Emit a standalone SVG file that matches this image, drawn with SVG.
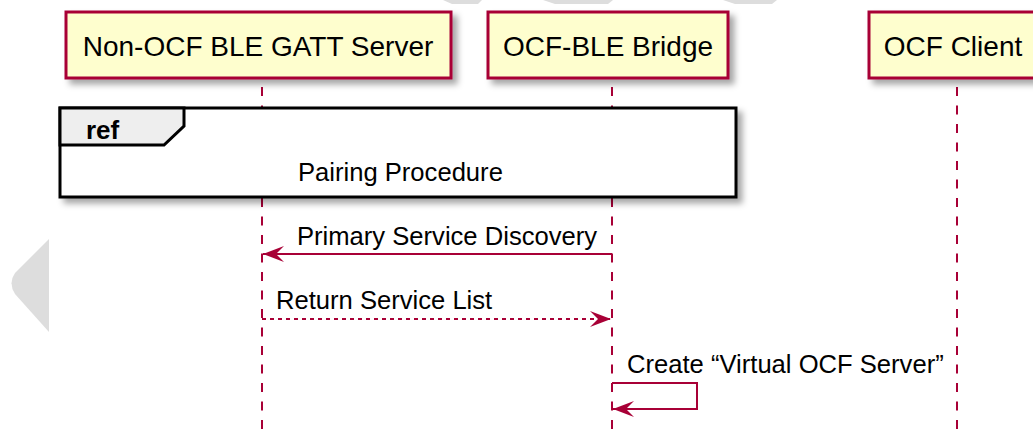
<svg xmlns="http://www.w3.org/2000/svg" width="1033" height="437" viewBox="0 0 1033 437">
<defs>
<filter id="sh" x="-10%" y="-20%" width="130%" height="160%">
<feGaussianBlur in="SourceAlpha" stdDeviation="3"/>
<feOffset dx="5" dy="5" result="b"/>
<feFlood flood-color="#000000" flood-opacity="0.35"/>
<feComposite in2="b" operator="in"/>
<feMerge><feMergeNode/><feMergeNode in="SourceGraphic"/></feMerge>
</filter>
<marker id="ah" viewBox="0 0 22 18" refX="21" refY="9" markerWidth="22" markerHeight="18" markerUnits="userSpaceOnUse" orient="auto">
<path d="M21,9 L0,1 L8,9 L0,17 Z" fill="#A80036"/>
</marker>
<style>
.part{fill:#FEFECE;stroke:#A80036;stroke-width:3}
.pt{font-family:"Liberation Sans",Arial,sans-serif;font-size:28px;fill:#000000}
.msg{font-family:"Liberation Sans",Arial,sans-serif;font-size:25.6px;fill:#000000}
.life{stroke:#A80036;stroke-width:2;stroke-dasharray:9,9.5;fill:none}
.arr{stroke:#A80036;stroke-width:2;fill:none}
.wm{fill:#DDDDDD}
</style>
</defs>
<rect width="1033" height="437" fill="#FFFFFF"/>
<g id="watermark">
<path class="wm" d="M49,239 L15,273 Q8,283 15,294 L49,332 Z"/>
<polygon class="wm" points="443,0 482,0 478,4 452,4"/>
<polygon class="wm" points="543,0 613,0 608,4 555,4"/>
<polygon class="wm" points="723,0 777,0 772,4 735,4"/>
</g>
<g id="lifelines">
<line class="life" x1="262" y1="87" x2="262" y2="437"/>
<line class="life" x1="612" y1="87" x2="612" y2="437"/>
<line class="life" x1="957" y1="87" x2="957" y2="437"/>
</g>
<g id="p1">
<rect class="part" x="66" y="12" width="385" height="66" filter="url(#sh)"/>
<text class="pt" x="258" y="56" text-anchor="middle">Non-OCF BLE GATT Server</text>
</g>
<g id="p2">
<rect class="part" x="488" y="12" width="240" height="66" filter="url(#sh)"/>
<text class="pt" x="608" y="56" text-anchor="middle">OCF-BLE Bridge</text>
</g>
<g id="p3">
<rect class="part" x="869" y="12" width="168" height="66" filter="url(#sh)"/>
<text class="pt" x="953" y="56" text-anchor="middle">OCF Client</text>
</g>
<g id="ref">
<rect x="60" y="108" width="676" height="89" fill="#FFFFFF" stroke="#000000" stroke-width="3" filter="url(#sh)"/>
<path d="M60,108 L184,108 L184,126 L164,145 L60,145 Z" fill="#EEEEEE" stroke="#000000" stroke-width="3"/>
<text x="86" y="139" font-family="'Liberation Sans',Arial,sans-serif" font-size="26" font-weight="bold" fill="#000000">ref</text>
<text class="msg" x="298" y="181">Pairing Procedure</text>
</g>
<g id="connectors">
<g id="m1">
<line class="arr" x1="612" y1="254" x2="263" y2="254" marker-end="url(#ah)"/>
<text class="msg" x="297" y="245">Primary Service Discovery</text>
</g>
<g id="m2">
<line class="arr" x1="262" y1="319" x2="611" y2="319" stroke-dasharray="4,4" marker-end="url(#ah)"/>
<text class="msg" x="276" y="309">Return Service List</text>
</g>
<g id="m3">
<polyline class="arr" points="612,383 697,383 697,409 613,409" marker-end="url(#ah)"/>
<text class="msg" x="627" y="373">Create “Virtual OCF Server”</text>
</g>
</g>
</svg>
